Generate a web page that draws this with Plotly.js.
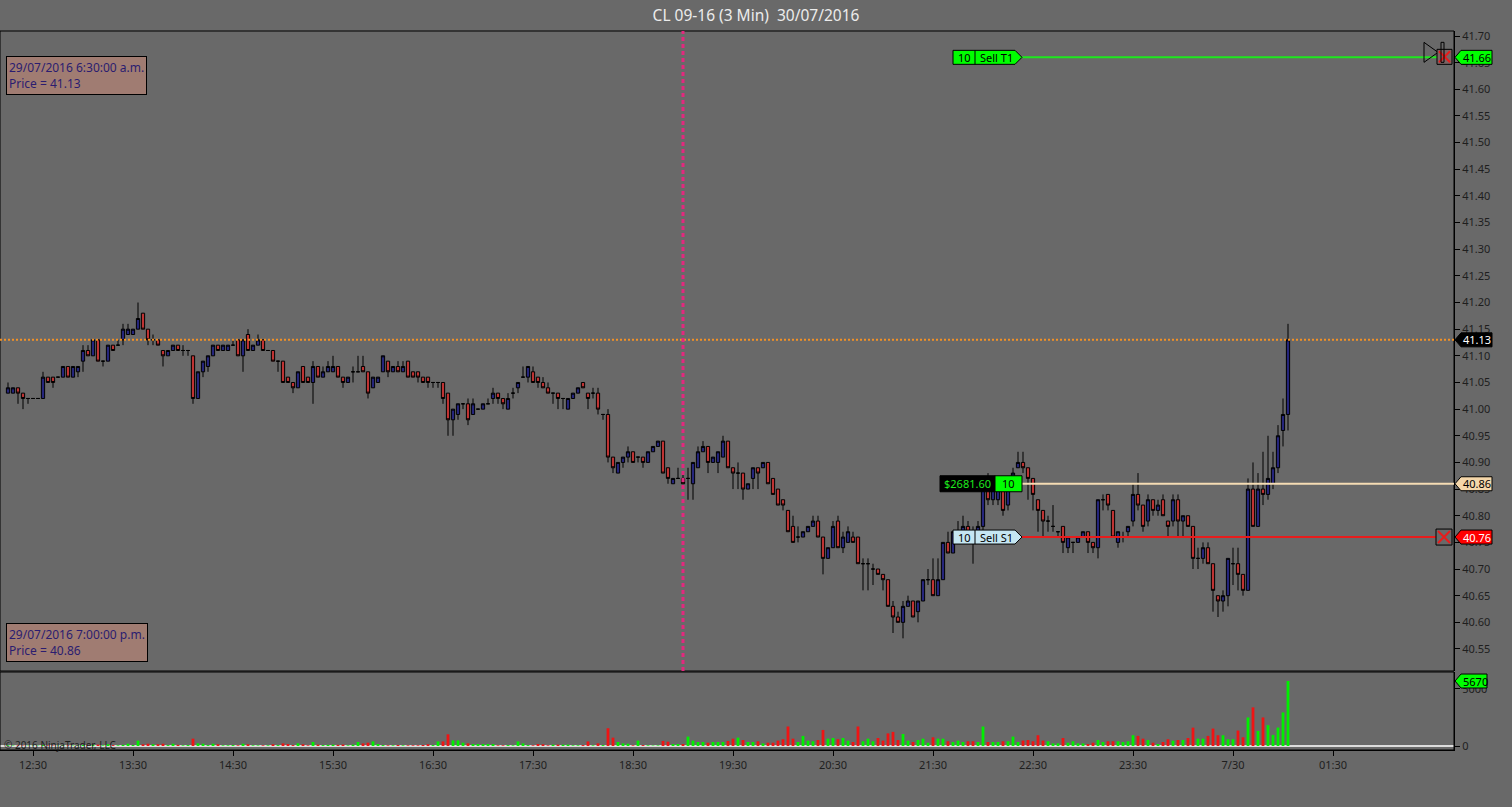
<!DOCTYPE html>
<html>
<head>
<meta charset="utf-8">
<script src="https://cdn.plot.ly/plotly-3.0.1.min.js"></script>
<style>
  html, body { margin: 0; padding: 0; background: #696969; }
  #chart { width: 1512px; height: 807px; }
</style>
</head>
<body>
<div id="chart"></div>
<script>
// CL 09-16, 3 minute bars, first bar 29/07/2016 12:15
var barMinutes = 3;

var opens = [
  41.03,41.03,41.04,41.03,41.02,41.02,41.02,41.02,41.06,41.06,
  41.06,41.06,41.08,41.06,41.07,41.09,41.11,41.10,41.13,41.09,
  41.09,41.12,41.12,41.13,41.14,41.14,41.15,41.18,41.15,41.13,
  41.13,41.11,41.10,41.11,41.12,41.11,41.11,41.10,41.02,41.07,
  41.08,41.10,41.12,41.11,41.11,41.12,41.13,41.10,41.14,41.11,
  41.12,41.13,41.11,41.11,41.09,41.09,41.06,41.05,41.04,41.08,
  41.06,41.05,41.08,41.06,41.07,41.07,41.08,41.06,41.05,41.07,
  41.07,41.08,41.07,41.04,41.05,41.07,41.09,41.07,41.08,41.07,
  41.09,41.07,41.07,41.06,41.06,41.05,41.05,41.05,41.03,40.98,
  40.99,41.01,41.01,40.99,41.00,41.00,41.01,41.02,41.03,41.02,
  41.00,41.03,41.04,41.06,41.06,41.07,41.06,41.05,41.04,41.03,
  41.03,41.02,41.00,41.02,41.03,41.05,41.03,41.03,41.03,40.99,
  40.99,40.91,40.88,40.90,40.91,40.92,40.91,40.91,40.90,40.92,
  40.93,40.94,40.89,40.86,40.87,40.87,40.87,40.86,40.89,40.92,
  40.93,40.90,40.90,40.91,40.94,40.89,40.88,40.88,40.85,40.87,
  40.89,40.89,40.90,40.87,40.85,40.83,40.81,40.78,40.76,40.76,
  40.77,40.78,40.79,40.76,40.72,40.74,40.79,40.74,40.75,40.76,
  40.76,40.71,40.71,40.70,40.70,40.69,40.68,40.63,40.61,40.60,
  40.63,40.64,40.62,40.64,40.68,40.68,40.65,40.68,40.75,40.73,
  40.77,40.77,40.78,40.77,40.76,40.78,40.85,40.83,40.83,40.85,
  40.82,40.87,40.89,40.90,40.89,40.87,40.83,40.81,40.79,40.78,
  40.77,40.78,40.74,40.75,40.75,40.76,40.77,40.75,40.74,40.83,
  40.84,40.81,40.75,40.76,40.77,40.79,40.84,40.82,40.79,40.83,
  40.81,40.83,40.79,40.79,40.83,40.79,40.80,40.78,40.72,40.72,
  40.74,40.71,40.65,40.64,40.65,40.71,40.71,40.69,40.66,40.85,
  40.78,40.85,40.84,40.86,40.89,40.96,40.99
];
var highs = [
  41.05,41.04,41.04,41.03,41.02,41.02,41.02,41.07,41.06,41.06,
  41.06,41.08,41.08,41.08,41.08,41.12,41.12,41.13,41.13,41.09,
  41.12,41.12,41.13,41.16,41.16,41.15,41.20,41.18,41.15,41.14,
  41.13,41.11,41.11,41.12,41.12,41.12,41.11,41.10,41.07,41.09,
  41.10,41.12,41.12,41.12,41.12,41.13,41.13,41.13,41.15,41.12,
  41.14,41.13,41.11,41.11,41.09,41.09,41.06,41.05,41.07,41.08,
  41.06,41.09,41.08,41.08,41.09,41.10,41.08,41.06,41.06,41.08,
  41.10,41.10,41.07,41.06,41.06,41.10,41.09,41.08,41.09,41.09,
  41.09,41.07,41.07,41.06,41.06,41.05,41.05,41.05,41.03,41.00,
  41.01,41.01,41.02,41.02,41.00,41.01,41.02,41.04,41.03,41.02,
  41.03,41.04,41.05,41.08,41.08,41.08,41.06,41.06,41.05,41.03,
  41.03,41.02,41.02,41.03,41.04,41.05,41.03,41.04,41.04,40.99,
  41.00,40.91,40.90,40.91,40.93,40.92,40.91,40.91,40.92,40.93,
  40.94,40.94,40.89,40.87,40.89,40.88,40.89,40.90,40.93,40.94,
  40.93,40.91,40.92,40.95,40.94,40.89,40.90,40.88,40.86,40.89,
  40.89,40.90,40.90,40.87,40.85,40.83,40.81,40.80,40.78,40.77,
  40.78,40.80,40.80,40.76,40.74,40.79,40.80,40.77,40.78,40.77,
  40.76,40.72,40.72,40.71,40.70,40.69,40.68,40.64,40.62,40.64,
  40.65,40.64,40.64,40.68,40.70,40.72,40.72,40.75,40.77,40.77,
  40.79,40.80,40.79,40.78,40.79,40.86,40.88,40.86,40.86,40.86,
  40.86,40.89,40.92,40.92,40.89,40.87,40.83,40.81,40.80,40.82,
  40.77,40.78,40.76,40.75,40.76,40.77,40.77,40.75,40.83,40.84,
  40.84,40.81,40.77,40.77,40.78,40.86,40.88,40.82,40.84,40.83,
  40.83,40.84,40.79,40.84,40.84,40.80,40.80,40.78,40.74,40.75,
  40.75,40.71,40.65,40.66,40.72,40.74,40.74,40.69,40.87,40.90,
  40.88,40.92,40.95,40.92,40.97,41.02,41.16
];
var lows = [
  41.03,41.03,41.01,41.00,41.01,41.02,41.02,41.02,41.05,41.04,
  41.06,41.06,41.06,41.06,41.06,41.07,41.10,41.10,41.09,41.08,
  41.09,41.11,41.12,41.12,41.14,41.14,41.15,41.15,41.12,41.12,
  41.12,41.08,41.10,41.11,41.11,41.10,41.10,41.01,41.02,41.06,
  41.07,41.10,41.11,41.11,41.11,41.12,41.10,41.07,41.11,41.11,
  41.12,41.11,41.11,41.09,41.07,41.05,41.05,41.03,41.04,41.05,
  41.05,41.01,41.06,41.06,41.07,41.07,41.06,41.04,41.05,41.05,
  41.07,41.07,41.02,41.04,41.05,41.07,41.06,41.07,41.07,41.07,
  41.06,41.06,41.05,41.05,41.04,41.04,41.04,41.01,40.95,40.95,
  40.98,41.00,40.97,40.99,41.00,41.00,41.01,41.01,41.01,41.00,
  41.00,41.02,41.03,41.06,41.05,41.05,41.04,41.04,41.03,41.01,
  41.00,41.00,41.00,41.02,41.03,41.04,41.00,41.02,40.99,40.98,
  40.90,40.88,40.88,40.89,40.90,40.90,40.90,40.89,40.90,40.92,
  40.93,40.88,40.86,40.86,40.87,40.86,40.83,40.83,40.89,40.92,
  40.88,40.90,40.88,40.91,40.89,40.85,40.85,40.83,40.85,40.85,
  40.85,40.89,40.86,40.84,40.82,40.81,40.77,40.75,40.75,40.76,
  40.77,40.78,40.76,40.69,40.72,40.74,40.74,40.73,40.75,40.75,
  40.71,40.66,40.66,40.67,40.69,40.66,40.63,40.58,40.60,40.57,
  40.63,40.61,40.60,40.64,40.67,40.65,40.65,40.68,40.73,40.73,
  40.75,40.76,40.76,40.71,40.75,40.77,40.82,40.82,40.82,40.80,
  40.81,40.86,40.89,40.88,40.83,40.81,40.77,40.76,40.77,40.77,
  40.76,40.73,40.73,40.73,40.75,40.76,40.73,40.73,40.72,40.81,
  40.81,40.76,40.74,40.75,40.76,40.78,40.81,40.77,40.78,40.80,
  40.80,40.80,40.76,40.78,40.76,40.76,40.78,40.70,40.70,40.71,
  40.71,40.62,40.61,40.62,40.63,40.67,40.66,40.65,40.66,40.78,
  40.78,40.82,40.83,40.85,40.88,40.93,40.96
];
var closes = [
  41.04,41.04,41.03,41.02,41.02,41.02,41.02,41.06,41.05,41.05,
  41.06,41.08,41.06,41.08,41.08,41.11,41.10,41.13,41.09,41.09,
  41.12,41.11,41.12,41.15,41.15,41.15,41.17,41.15,41.13,41.13,
  41.12,41.10,41.11,41.12,41.11,41.11,41.11,41.02,41.07,41.09,
  41.10,41.12,41.11,41.12,41.12,41.12,41.10,41.13,41.11,41.12,
  41.13,41.11,41.11,41.09,41.09,41.05,41.05,41.04,41.07,41.05,
  41.05,41.08,41.06,41.07,41.08,41.08,41.06,41.05,41.06,41.07,
  41.07,41.07,41.03,41.06,41.06,41.10,41.07,41.08,41.07,41.08,
  41.06,41.06,41.06,41.05,41.05,41.05,41.05,41.02,40.98,41.00,
  41.01,41.01,40.98,41.01,41.00,41.01,41.01,41.03,41.02,41.01,
  41.02,41.03,41.05,41.06,41.08,41.05,41.05,41.04,41.03,41.03,
  41.02,41.02,41.02,41.03,41.04,41.04,41.02,41.03,41.00,40.99,
  40.91,40.89,40.90,40.91,40.92,40.90,40.91,40.90,40.92,40.93,
  40.94,40.88,40.87,40.87,40.87,40.86,40.87,40.90,40.92,40.93,
  40.90,40.91,40.92,40.94,40.89,40.88,40.88,40.85,40.86,40.89,
  40.88,40.90,40.86,40.84,40.82,40.82,40.77,40.75,40.76,40.77,
  40.78,40.79,40.76,40.72,40.74,40.78,40.74,40.76,40.77,40.75,
  40.71,40.71,40.71,40.70,40.69,40.68,40.63,40.61,40.60,40.63,
  40.64,40.61,40.64,40.68,40.68,40.65,40.68,40.75,40.73,40.77,
  40.77,40.78,40.77,40.76,40.78,40.85,40.83,40.85,40.85,40.81,
  40.85,40.88,40.90,40.89,40.87,40.84,40.81,40.79,40.79,40.78,
  40.77,40.75,40.76,40.75,40.76,40.77,40.75,40.74,40.83,40.83,
  40.82,40.76,40.77,40.76,40.78,40.84,40.82,40.78,40.83,40.81,
  40.82,40.80,40.78,40.83,40.79,40.80,40.78,40.72,40.72,40.74,
  40.71,40.66,40.64,40.65,40.72,40.71,40.69,40.66,40.85,40.78,
  40.85,40.84,40.87,40.89,40.95,40.99,41.13
];
var volumes = [
  60,40,50,40,30,30,30,80,50,40,
  30,60,50,40,40,90,60,100,120,60,
  150,80,60,100,200,90,470,150,200,150,
  150,200,80,200,100,60,80,640,230,200,
  80,200,150,60,60,80,60,200,150,60,
  50,60,60,150,80,230,170,80,230,150,
  60,350,120,80,100,120,100,130,60,120,
  350,230,290,400,170,80,60,60,90,60,
  60,60,60,90,150,80,400,400,1020,490,
  490,290,230,170,170,170,170,170,60,60,
  80,60,400,230,80,60,170,150,60,120,
  120,120,120,60,60,80,400,60,230,80,
  1550,730,350,230,200,60,470,80,60,40,
  50,440,380,170,170,170,820,470,350,350,
  290,350,350,350,440,640,730,520,350,350,
  410,230,290,290,470,590,1700,640,350,880,
  470,410,520,1400,640,700,590,700,470,350,
  1700,410,640,410,700,470,1100,1230,520,1050,
  470,350,520,640,290,760,640,640,410,350,
  470,350,410,410,350,1700,350,350,350,410,
  410,820,350,470,520,410,940,470,410,230,
  230,700,290,410,230,230,170,290,520,350,
  410,410,410,350,410,940,880,640,520,290,
  170,350,590,470,520,520,700,1600,640,640,
  880,1520,940,940,590,590,1350,760,2490,3370,
  1320,2490,1820,970,1610,2930,5670
];

var tickTimes = ['2016-07-29 12:30','2016-07-29 13:30','2016-07-29 14:30','2016-07-29 15:30',
  '2016-07-29 16:30','2016-07-29 17:30','2016-07-29 18:30','2016-07-29 19:30','2016-07-29 20:30',
  '2016-07-29 21:30','2016-07-29 22:30','2016-07-29 23:30','2016-07-30 00:30','2016-07-30 01:30'];
var tickLabels = ['12:30','13:30','14:30','15:30','16:30','17:30','18:30','19:30','20:30',
  '21:30','22:30','23:30','7/30','01:30'];

var crossTime = '2016-07-29 19:00';
var crossPrice = 41.13;
var targetPrice = 41.66;
var entryPrice = 40.86;
var stopPrice = 40.76;
var orderQty = '10';
var pnlText = '$2681.60';

function barTime(i) {
  var d = new Date(Date.UTC(2016, 6, 29, 12, 15) + i * barMinutes * 60000);
  return d.toISOString().slice(0, 19).replace('T', ' ');
}
var times = opens.map(function(o, i) { return barTime(i); });
var volColors = closes.map(function(c, i) { return c >= opens[i] ? '#00f000' : '#f01414'; });

// plot area is 1454 x 719 px, from y=31 to y=750
function px(x) { return x / 1454; }
function py(y) { return (750 - y) / 719; }
var priceDomain = [py(671), 1];
var volDomain = [0, py(672)];

var candles = {
  type: 'candlestick', x: times, open: opens, high: highs, low: lows, close: closes,
  xaxis: 'x', yaxis: 'y',
  increasing: { line: { color: '#000000', width: 1 }, fillcolor: '#25257c' },
  decreasing: { line: { color: '#000000', width: 1 }, fillcolor: '#bf3333' },
  whiskerwidth: 0, hoverinfo: 'skip'
};
var volBars = {
  type: 'bar', x: times, y: volumes, xaxis: 'x', yaxis: 'y2',
  marker: { color: volColors, line: { width: 0 } },
  width: 100000, hoverinfo: 'skip'
};

function pathAt(xAnchor, yref, yAnchor, path, fill, lineColor, lineWidth) {
  return {
    type: 'path', xref: 'paper', xsizemode: 'pixel', xanchor: xAnchor,
    yref: yref, ysizemode: 'pixel', yanchor: yAnchor, path: path,
    fillcolor: fill || 'rgba(0,0,0,0)',
    line: { color: lineColor || '#000000', width: lineWidth || 1 }, layer: 'above'
  };
}
function hline(x0, x1, price, color, width, dash) {
  return { type: 'line', xref: 'paper', x0: x0, x1: x1, yref: 'y', y0: price, y1: price,
    line: { color: color, width: width, dash: dash || 'solid' }, layer: 'above' };
}
var axisFlag = 'M1,0L7,7L38,7L38,-7L7,-7Z';
var orderFlag = 'M0,-7L62,-7L69,0L62,7L0,7Z';

var shapes = [
  { type: 'rect', xref: 'paper', yref: 'paper', x0: 0, x1: 1, y0: priceDomain[0], y1: 1,
    line: { color: '#000', width: 1 }, layer: 'above' },
  { type: 'rect', xref: 'paper', yref: 'paper', x0: 0, x1: 1, y0: 0, y1: volDomain[1],
    line: { color: '#000', width: 1 }, layer: 'above' },
  hline(0, 1, crossPrice, '#f39125', 2, '2px,2px'),
  { type: 'line', xref: 'x', x0: crossTime, x1: crossTime, yref: 'paper', y0: priceDomain[0], y1: 1,
    line: { color: '#e3287e', width: 3, dash: '4px,3px' }, layer: 'above' },
  hline(px(1022), px(1440), targetPrice, '#1ee81e', 2),
  hline(px(1022), 1, entryPrice, '#f5dcb4', 2),
  hline(px(1022), px(1436), stopPrice, '#e81c1c', 2),
  // order flags
  pathAt(px(953), 'y', targetPrice, orderFlag, '#00ff00'),
  pathAt(px(953), 'y', targetPrice, 'M22,-7L22,7', null),
  pathAt(px(953), 'y', stopPrice, orderFlag, '#c5e6f2'),
  pathAt(px(953), 'y', stopPrice, 'M22,-7L22,7', null),
  pathAt(px(940), 'y', entryPrice, 'M0,-8L55,-8L55,8L0,8Z', '#000000'),
  pathAt(px(995), 'y', entryPrice, 'M0,-8L27,-8L27,8L0,8Z', '#00ff00'),
  // target / stop markers near the axis
  pathAt(px(1444), 'y', targetPrice, 'M-20,15L-6,5L-20,-5Z', null),
  pathAt(px(1444), 'y', targetPrice, 'M-7,8L8,8L8,-7L-7,-7Z', '#7a6464'),
  pathAt(px(1444), 'y', targetPrice, 'M-5,6L6,-5M-5,-5L6,6', null, '#e81c1c', 2),
  pathAt(px(1444), 'y', targetPrice, 'M-3,15L0,15L0,-5L-3,-5Z', null),
  pathAt(px(1444), 'y', stopPrice, 'M-8,8L8,8L8,-8L-8,-8Z', null),
  pathAt(px(1444), 'y', stopPrice, 'M-6,6L6,-6M-6,-6L6,6', null, '#e81c1c', 2),
  // axis price flags
  pathAt(1, 'y', targetPrice, axisFlag, '#00ff00'),
  pathAt(1, 'y', crossPrice, axisFlag, '#000000'),
  pathAt(1, 'y', entryPrice, axisFlag, '#f5d7aa'),
  pathAt(1, 'y', stopPrice, axisFlag, '#ff0000'),
  pathAt(1, 'y2', volumes[volumes.length - 1], 'M1,0L7,7L33,7L33,-7L7,-7Z', '#00ff00')
];

var f = 'Noto Sans, Open Sans, sans-serif';
function flagText(text, price, color, yref, shift) {
  return { xref: 'paper', x: 1, xanchor: 'center', xshift: shift || 23, yref: yref || 'y', y: price,
    yanchor: 'middle', text: text, showarrow: false, font: { family: f, size: 11, color: color } };
}
function boxText(x, price, text, color) {
  return { xref: 'paper', x: x, xanchor: 'center', yref: 'y', y: price, yanchor: 'middle',
    text: text, showarrow: false, font: { family: f, size: 11, color: color } };
}
var infoBox = { xref: 'paper', xanchor: 'left', yref: 'paper', align: 'left', showarrow: false,
  bgcolor: '#a07c72', bordercolor: '#000', borderwidth: 1, borderpad: 2,
  font: { family: f, size: 12, color: '#2b1c70' } };

var annotations = [
  flagText(targetPrice.toFixed(2), targetPrice, '#000'),
  flagText(crossPrice.toFixed(2), crossPrice, '#fff'),
  flagText(entryPrice.toFixed(2), entryPrice, '#000'),
  flagText(stopPrice.toFixed(2), stopPrice, '#fff'),
  flagText(String(volumes[volumes.length - 1]), volumes[volumes.length - 1], '#000', 'y2', 21),
  boxText(px(964), targetPrice, orderQty, '#000'),
  boxText(px(996), targetPrice, 'Sell T1', '#000'),
  boxText(px(964), stopPrice, orderQty, '#000'),
  boxText(px(996), stopPrice, 'Sell S1', '#000'),
  boxText(px(967), entryPrice, pnlText, '#1ee81e'),
  boxText(px(1008), entryPrice, orderQty, '#000'),
  Object.assign({}, infoBox, { x: px(6), y: py(56), yanchor: 'top',
    text: '29/07/2016 6:30:00 a.m.<br>Price = ' + crossPrice.toFixed(2) }),
  Object.assign({}, infoBox, { x: px(6), y: py(662), yanchor: 'bottom',
    text: '29/07/2016 7:00:00 p.m.<br>Price = ' + entryPrice.toFixed(2) }),
  { xref: 'paper', x: px(2), xanchor: 'left', yref: 'paper', y: py(745), yanchor: 'middle',
    text: '\u00a9 2016 NinjaTrader, LLC', showarrow: false, font: { family: f, size: 10, color: '#1e1e1e' } }
];

var layout = {
  width: 1512, height: 807,
  margin: { l: 0, r: 58, t: 31, b: 57 },
  paper_bgcolor: '#696969', plot_bgcolor: '#696969',
  title: { text: 'CL 09-16 (3 Min)\u00a0\u00a030/07/2016', xref: 'container', x: 0.5, xanchor: 'center',
    yref: 'container', y: 1 - 16 / 807, yanchor: 'middle', font: { family: f, size: 15.5, color: '#ececec' } },
  showlegend: false, hovermode: false, dragmode: false,
  boxgap: 0.08,
  xaxis: {
    type: 'date', anchor: 'y2', domain: [0, 1],
    range: [barTime(-1.6), barTime(289.2)],
    rangeslider: { visible: false },
    tickmode: 'array', tickvals: tickTimes, ticktext: tickLabels,
    ticks: 'outside', ticklen: 5, tickcolor: '#000', showgrid: false, zeroline: false,
    showline: true, linecolor: '#000', linewidth: 1,
    tickfont: { family: f, size: 11, color: '#1e1e1e' }
  },
  yaxis: {
    domain: priceDomain, anchor: 'x', side: 'right',
    range: [40.5087, 41.7094], tick0: 40.55, dtick: 0.05, tickformat: '.2f',
    ticks: 'outside', ticklen: 5, tickcolor: '#000', showgrid: false, zeroline: false,
    showline: true, linecolor: '#000', linewidth: 1,
    tickfont: { family: f, size: 11, color: '#1e1e1e' }
  },
  yaxis2: {
    domain: volDomain, anchor: 'x', side: 'right',
    range: [-349, 6457], tickmode: 'array', tickvals: [0, 5000], ticktext: ['0', '5000'],
    ticks: 'outside', ticklen: 5, tickcolor: '#000', showgrid: false,
    zeroline: true, zerolinecolor: '#dcdcdc', zerolinewidth: 2,
    showline: true, linecolor: '#000', linewidth: 1,
    tickfont: { family: f, size: 11, color: '#1e1e1e' }
  },
  shapes: shapes,
  annotations: annotations
};

Plotly.newPlot('chart', [volBars, candles], layout, { displayModeBar: false, staticPlot: true });
</script>
</body>
</html>
